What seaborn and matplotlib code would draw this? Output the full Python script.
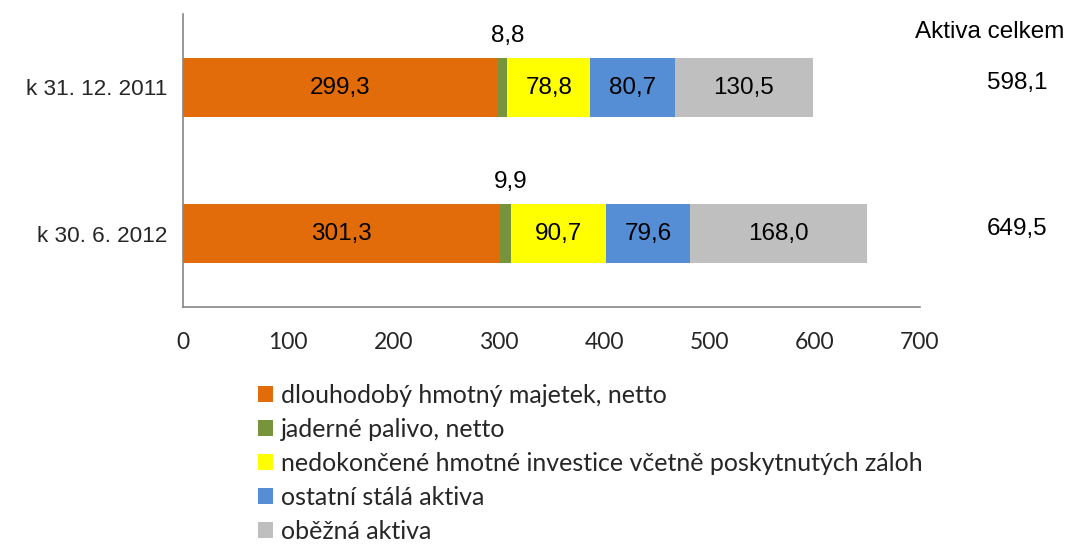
import matplotlib
matplotlib.use("Agg")
import matplotlib.pyplot as plt
import seaborn as sns
import pandas as pd
import numpy as np
from matplotlib.patches import Patch

categories = ["k 31. 12. 2011", "k 30. 6. 2012"]
series_names = [
    "dlouhodobý hmotný majetek, netto",
    "jaderné palivo, netto",
    "nedokončené hmotné investice včetně poskytnutých záloh",
    "ostatní stálá aktiva",
    "oběžná aktiva",
]
dlouhodoby = [299.3, 301.3]
jaderne = [8.8, 9.9]
nedokoncene = [78.8, 90.7]
ostatni = [80.7, 79.6]
obezna = [130.5, 168.0]
totals = [598.1, 649.5]
total_labels = ["598,1", "649,5"]
xticks = [0, 100, 200, 300, 400, 500, 600, 700]

colors = ["#E36C0A", "#77933C", "#FFFF00", "#558ED5", "#BFBFBF"]

sns.set_theme(style="white")
plt.rcParams["font.family"] = ["Liberation Sans", "DejaVu Sans"]

series = [dlouhodoby, jaderne, nedokoncene, ostatni, obezna]
cum = np.cumsum(np.array(series), axis=0)

fig = plt.figure(figsize=(10.67, 5.45), dpi=100)
ax = fig.add_axes([0.1715, 0.437, 0.862 - 0.1715, 0.974 - 0.437])

for i in range(len(series) - 1, -1, -1):
    df = pd.DataFrame({"cat": categories, "val": cum[i]})
    sns.barplot(data=df, x="val", y="cat", orient="h", color=colors[i],
                saturation=1, width=0.4, ax=ax, linewidth=0, zorder=2)

def fmt(v):
    return f"{v:.1f}".replace(".", ",")

FS = 17.5
for j in range(len(categories)):
    for i, s in enumerate(series):
        start = cum[i][j] - s[j]
        center = start + s[j] / 2
        if i == 1:
            ax.text(center + 5, j - 0.35, fmt(s[j]), ha="center", va="center",
                    fontsize=FS, color="black")
        else:
            ax.text(center, j + 0.005, fmt(s[j]), ha="center", va="center",
                    fontsize=FS, color="black")

# totals column
trans = ax.get_yaxis_transform()
for j in range(len(categories)):
    ax.text(1.132, j - 0.03, total_labels[j], transform=trans, ha="center",
            va="center", fontsize=FS, color="black")
ax.text(1.095, -0.375, "Aktiva celkem", transform=trans, ha="center",
        va="center", fontsize=FS, color="black")

ax.set_xlim(0, 700)
ax.set_ylim(1.5, -0.5)
ax.set_xticks(xticks)
ax.set_xticklabels([str(t) for t in xticks], fontsize=16.5,
                   family=["Lato", "DejaVu Sans"])
ax.set_xlabel("")
ax.set_ylabel("")
ax.tick_params(axis="y", which="major", length=0, labelsize=16.2, pad=11)
ax.set_yticks([-0.5, 0.5, 1.5], minor=True)
ax.tick_params(axis="y", which="minor", length=7, width=1.2, color="#868686",
               direction="out")
ax.tick_params(axis="x", which="major", length=7, width=1.2, color="#868686",
               direction="out", pad=11)

for side in ["top", "right"]:
    ax.spines[side].set_visible(False)
for side in ["left", "bottom"]:
    ax.spines[side].set_color("#868686")
    ax.spines[side].set_linewidth(1.2)

handles = [Patch(facecolor=c, edgecolor="none") for c in colors]
fig.legend(handles, series_names, loc="upper left",
           bbox_to_anchor=(0.242, 0.296), frameon=False,
           prop={"family": ["Lato", "DejaVu Sans"], "size": 18},
           handlelength=0.6, handleheight=0.6, handletextpad=0.3,
           labelspacing=0.44, borderpad=0, borderaxespad=0)

fig.savefig("out.png", dpi=100)
